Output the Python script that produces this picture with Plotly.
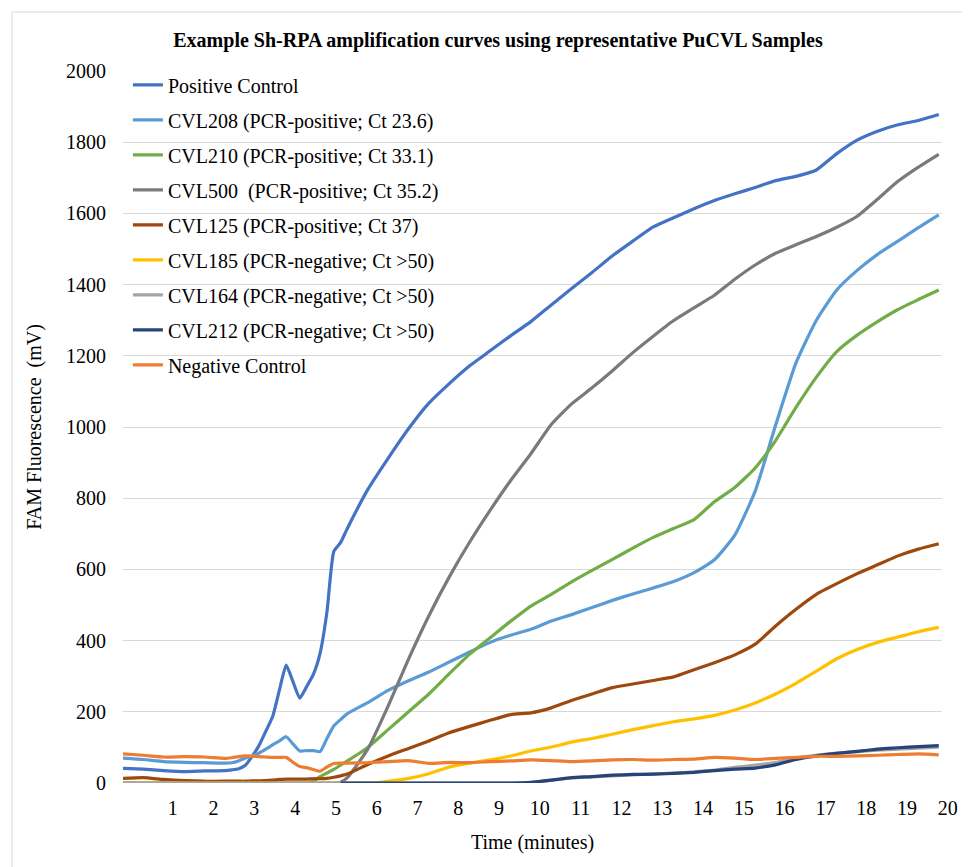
import plotly.graph_objects as go

# ---------------- data ----------------
time_min = [0, 0.5, 1, 1.5, 2, 2.5, 2.667, 2.833, 3, 3.167, 3.333, 3.5, 3.667, 3.833,
            4, 4.167, 4.333, 4.5, 4.667, 4.833, 5, 5.167, 5.333, 5.5, 6, 6.5, 7, 7.5,
            8, 8.5, 9, 9.5, 10, 10.5, 11, 11.5, 12, 12.5, 13, 13.5, 14, 14.5, 15,
            15.5, 16, 16.5, 17, 17.5, 18, 18.5, 19, 19.5, 20]

positive_control = [41, 39, 35, 32, 34, 35, 37, 40, 50, 75, 105, 145, 186, 260,
                    331, 285, 238, 270, 305, 365, 480, 650, 675, 715, 824, 912, 995, 1067,
                    1122, 1172, 1214, 1256, 1296, 1343, 1389, 1434, 1481, 1522, 1562, 1588, 1613, 1636, 1655,
                    1673, 1692, 1704, 1722, 1768, 1806, 1831, 1849, 1861, 1878]

cvl208 = [70, 66, 60, 58, 57, 56, 57, 62, 70, 76, 84, 95, 107, 118,
          130, 110, 90, 91, 91, 88, 125, 160, 178, 195, 226, 260, 287, 312,
          340, 368, 395, 415, 432, 455, 473, 493, 513, 531, 548, 566, 591, 627, 696,
          820, 1005, 1180, 1300, 1385, 1440, 1485, 1522, 1560, 1596]

cvl210 = [0, 0, 0, 0, 0, 0, 0, 0, 0, 0, 0, 0, 0, 0,
          0, 0, 0, 0, 5, 18, 28, 38, 50, 62, 100, 150, 200, 250,
          307, 362, 408, 454, 497, 530, 565, 597, 628, 660, 690, 715, 740, 790, 830,
          885, 962, 1055, 1140, 1212, 1258, 1296, 1330, 1358, 1385]

cvl500 = [0, 0, 0, 0, 0, 0, 0, 0, 0, 0, 0, 0, 0, 0,
          0, 0, 0, 0, 0, 0, 0, 0, 2, 15, 95, 216, 348, 470,
          579, 677, 766, 849, 925, 1007, 1065, 1110, 1158, 1209, 1255, 1299, 1335, 1370, 1415,
          1455, 1488, 1512, 1535, 1561, 1592, 1640, 1690, 1730, 1766]

cvl125 = [13, 15, 10, 7, 5, 5, 5, 5, 5, 6, 6, 7, 8, 10,
          11, 11, 11, 11, 12, 12, 13, 16, 20, 25, 52, 76, 97, 118,
          141, 159, 176, 192, 197, 211, 232, 250, 268, 278, 288, 298, 318, 338, 360,
          390, 441, 488, 530, 560, 588, 613, 638, 657, 672]

cvl185 = [0, 0, 0, 0, 0, 0, 0, 0, 0, 0, 0, 0, 0, 0,
          0, 0, 0, 0, 0, 0, 0, 0, 0, 0, 0, 5, 13, 26,
          45, 56, 65, 76, 90, 101, 115, 125, 137, 150, 161, 172, 180, 190, 205,
          225, 250, 280, 314, 349, 375, 395, 410, 425, 437]

cvl164 = [0, 0, 0, 0, 0, 0, 0, 0, 0, 0, 0, 0, 0, 0,
          0, 0, 0, 0, 0, 0, 0, 0, 0, 0, 0, 0, 0, 0,
          0, 0, 0, 0, 1, 8, 14, 17, 20, 23, 25, 28, 31, 36, 44,
          50, 58, 70, 78, 84, 88, 92, 95, 98, 101]

cvl212 = [None, None, None, None, None, None, None, None, None, None, None, None, None, None,
          None, None, None, None, None, None, None, None, 0, 0, 0, 0, 0, 0,
          0, 0, 0, 0, 2, 8, 15, 18, 22, 24, 25, 27, 30, 35, 39,
          42, 51, 66, 76, 83, 89, 95, 99, 102, 105]

negative_control = [82, 78, 73, 74, 73, 69, 71, 74, 76, 75, 74, 73, 72, 72,
                    72, 58, 46, 43, 38, 33, 45, 55, 56, 56, 57, 60, 63, 55,
                    58, 57, 60, 62, 65, 63, 60, 62, 65, 66, 64, 66, 67, 72, 70,
                    66, 69, 72, 75, 75, 76, 78, 80, 82, 79]

series_names = ["Positive Control",
                "CVL208 (PCR-positive; Ct 23.6)",
                "CVL210 (PCR-positive; Ct 33.1)",
                "CVL500  (PCR-positive; Ct 35.2)",
                "CVL125 (PCR-positive; Ct 37)",
                "CVL185 (PCR-negative; Ct >50)",
                "CVL164 (PCR-negative; Ct >50)",
                "CVL212 (PCR-negative; Ct >50)",
                "Negative Control"]
series_values = [positive_control, cvl208, cvl210, cvl500, cvl125,
                 cvl185, cvl164, cvl212, negative_control]
series_colors = ["#4472C4", "#5B9BD5", "#70AD47", "#7A7A7A", "#9E480E",
                 "#FFC000", "#A5A5A5", "#264478", "#ED7D31"]

x_tick_vals = list(range(1, 21))
x_tick_text = [str(v) for v in x_tick_vals]

# ---------------- figure ----------------
FONT = "Liberation Serif, Times New Roman, serif"
fig = go.Figure()
for i, (name, vals, col) in enumerate(zip(series_names, series_values, series_colors)):
    fig.add_trace(go.Scatter(x=time_min, y=vals, mode="lines", name=name,
                             legendgroup="g%d" % i,
                             line=dict(color=col, width=3.2, shape="spline", smoothing=0.5),
                             connectgaps=False))

# the page body adds an 8 px offset, so the figure is 8 px smaller each way
W, H = 962, 859
ML, MR, MT, MB = 115, 28, 63, 84
pw, ph = W - ML - MR, H - MT - MB

def px_x(v):
    return (v - ML) / pw

def px_y(v):
    return (H - MB - v) / ph

fig.update_layout(
    width=W, height=H,
    margin=dict(l=ML, r=MR, t=MT, b=MB, pad=0),
    paper_bgcolor="white", plot_bgcolor="white",
    font=dict(family=FONT, color="#000000", size=20),
    title=dict(text="Example Sh-RPA amplification curves using representative PuCVL Samples",
               x=490 / W, xanchor="center", y=1 - 32 / H, yanchor="middle",
               font=dict(family=FONT, size=20, color="#000000", weight=700)),
    legend=dict(x=0.006, y=1.008, xanchor="left", yanchor="top",
                bgcolor="rgba(0,0,0,0)", tracegroupgap=6,
                font=dict(family=FONT, size=20, color="#000000")),
    showlegend=True,
    shapes=[dict(type="rect", xref="paper", yref="paper",
                 x0=px_x(4), x1=px_x(958), y0=px_y(870), y1=px_y(4),
                 line=dict(color="#D9D9D9", width=1), fillcolor="rgba(0,0,0,0)",
                 layer="below")],
)

fig.update_xaxes(range=[0, 20.08], tickvals=x_tick_vals, ticktext=x_tick_text,
                 showgrid=False, zeroline=False, showline=False, ticks="",
                 ticklabelstandoff=11, ticklabelshift=9,
                 tickfont=dict(family=FONT, size=20, color="#000000"),
                 title=dict(text="Time (minutes)", standoff=16,
                            font=dict(family=FONT, size=20, color="#000000")))
fig.update_yaxes(range=[0, 2000], dtick=200, showgrid=True, gridcolor="#D9D9D9",
                 gridwidth=1, zeroline=False, showline=False, ticks="",
                 ticklabelstandoff=16,
                 tickfont=dict(family=FONT, size=20, color="#000000"),
                 title=dict(text="FAM Fluorescence\u00a0 (mV)", standoff=19,
                            font=dict(family=FONT, size=20, color="#000000")))

fig.write_html("out.html")
